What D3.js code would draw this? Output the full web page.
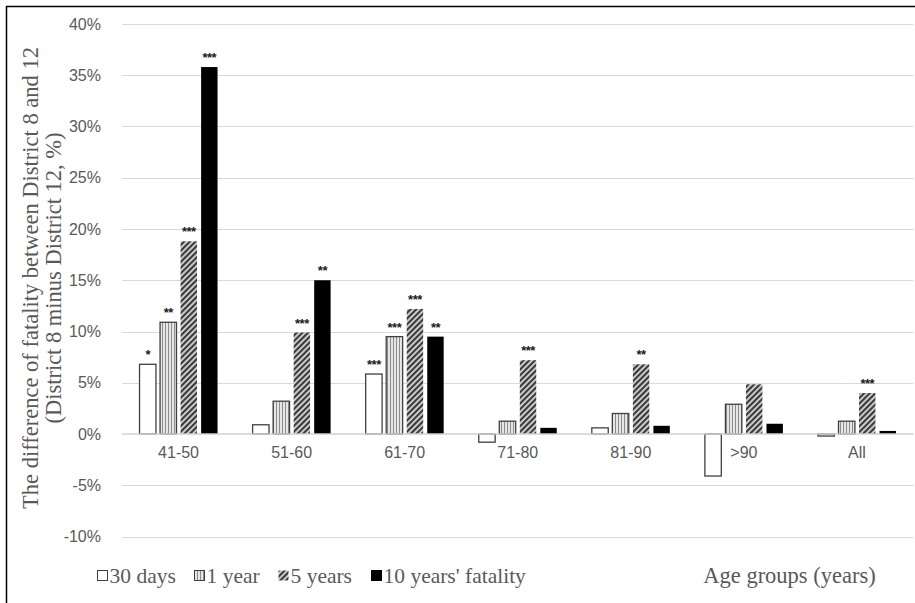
<!DOCTYPE html>
<html>
<head>
<meta charset="utf-8">
<script src="https://cdn.jsdelivr.net/npm/d3@7"></script>
<style>
  html, body { margin: 0; padding: 0; background: #fff; }
  svg { display: block; }
</style>
</head>
<body>
<svg id="chart" width="915" height="603"></svg>
<script>
// ---- data ----
const categories = ["41-50", "51-60", "61-70", "71-80", "81-90", ">90", "All"];
const seriesNames = ["30 days", "1 year", "5 years", "10 years' fatality"];
const days30 = [6.8, 0.9, 5.85, -0.8, 0.6, -4.1, -0.2];
const year1 = [10.9, 3.2, 9.5, 1.25, 2.0, 2.9, 1.25];
const years5 = [18.8, 9.9, 12.2, 7.2, 6.8, 4.85, 4.0];
const years10 = [35.8, 15.0, 9.5, 0.6, 0.8, 1.0, 0.3];
const stars30 = ["*", "", "***", "", "", "", ""];
const stars1 = ["**", "", "***", "", "", "", ""];
const stars5 = ["***", "***", "***", "***", "**", "", "***"];
const stars10 = ["***", "**", "**", "", "", "", ""];
const yTicks = [-10, -5, 0, 5, 10, 15, 20, 25, 30, 35, 40];

const seriesValues = [days30, year1, years5, years10];
const seriesStars = [stars30, stars1, stars5, stars10];

const svg = d3.select("#chart");
const defs = svg.append("defs");

// patterns
const pv = defs.append("pattern").attr("id", "pVert").attr("patternUnits", "userSpaceOnUse")
  .attr("width", 3).attr("height", 3);
pv.append("rect").attr("width", 3).attr("height", 3).attr("fill", "#e6e6e6");
pv.append("rect").attr("x", 0).attr("width", 1).attr("height", 3).attr("fill", "#8c8c8c");

const pd = defs.append("pattern").attr("id", "pDiag").attr("patternUnits", "userSpaceOnUse")
  .attr("width", 4).attr("height", 4).attr("patternTransform", "rotate(45)");
pd.append("rect").attr("width", 4).attr("height", 4).attr("fill", "#d9d9d9");
pd.append("rect").attr("width", 2.2).attr("height", 4).attr("fill", "#3a3a3a");

const fills = ["#ffffff", "url(#pVert)", "url(#pDiag)", "#000000"];
const strokes = ["#404040", "#404040", "none", "#000000"];

// scales
const x = d3.scaleBand().domain(categories).range([122, 913.5]).paddingInner(0).paddingOuter(0);
const xs = d3.scaleBand().domain(d3.range(seriesNames.length)).range([-39, 39]).paddingInner(0.2).paddingOuter(0);
const y = d3.scaleLinear().domain([-10, 40]).range([536.5, 24]);

// border
svg.append("path").attr("d", "M6.5,603V6.5H915").attr("fill", "none").attr("stroke", "#000").attr("stroke-width", 1.5);

// gridlines
svg.append("g").selectAll("line").data(yTicks.filter(d => d !== 0)).join("line")
  .attr("x1", 122).attr("x2", 913.5)
  .attr("y1", d => Math.round(y(d)) + 0.5).attr("y2", d => Math.round(y(d)) + 0.5)
  .attr("stroke", "#d9d9d9").attr("stroke-width", 1);

// y axis labels
const yAxis = d3.axisLeft(y).tickValues(yTicks).tickFormat(d => d + "%").tickSize(0).tickPadding(0);
const ya = svg.append("g").attr("transform", "translate(101,0)").call(yAxis);
ya.select(".domain").remove();
ya.selectAll("text").attr("font-family", "Liberation Sans, Arial, sans-serif").attr("font-size", 16).attr("fill", "#595959");

// bars
const groups = svg.append("g").selectAll("g").data(seriesValues).join("g");
groups.each(function (vals, si) {
  d3.select(this).selectAll("rect").data(vals).join("rect")
    .attr("x", (d, i) => x(categories[i]) + x.bandwidth() / 2 + xs(si))
    .attr("width", xs.bandwidth())
    .attr("y", d => y(Math.max(0, d)))
    .attr("height", d => Math.abs(y(d) - y(0)))
    .attr("fill", fills[si])
    .attr("stroke", strokes[si])
    .attr("stroke-width", si === 3 ? 0 : 1.3);
});

// zero line
svg.append("line").attr("x1", 122).attr("x2", 913.5)
  .attr("y1", y(0)).attr("y2", y(0)).attr("stroke", "#d0d0d0").attr("stroke-width", 1.3);

// stars
seriesStars.forEach((arr, si) => {
  svg.append("g").selectAll("text").data(arr).join("text")
    .attr("x", (d, i) => x(categories[i]) + x.bandwidth() / 2 + xs(si) + xs.bandwidth() / 2)
    .attr("y", (d, i) => y(Math.max(0, seriesValues[si][i])) - 5)
    .attr("text-anchor", "middle")
    .attr("font-family", "Liberation Sans, Arial, sans-serif")
    .attr("font-weight", "bold")
    .attr("font-size", 13)
    .attr("letter-spacing", -0.5)
    .attr("fill", "#1a1a1a")
    .text(d => d);
});

// x axis labels
const xAxis = d3.axisBottom(x).tickSize(0).tickPadding(0);
const xa = svg.append("g").attr("transform", "translate(0,447)").call(xAxis);
xa.select(".domain").remove();
xa.selectAll("text").attr("font-family", "Liberation Sans, Arial, sans-serif").attr("font-size", 16).attr("fill", "#595959");

// y title
const yt = svg.append("text")
  .attr("transform", "translate(0,278) rotate(-90)")
  .attr("text-anchor", "middle")
  .attr("font-family", "Liberation Serif, Times New Roman, serif")
  .attr("font-size", 22.5)
  .attr("fill", "#595959");
yt.append("tspan").attr("x", 0).attr("y", 38).text("The difference of fatality between District 8 and 12");
yt.append("tspan").attr("x", 0).attr("y", 61).text("(District 8 minus District 12, %)");

// legend
const legendX = [97, 194, 278, 371];
const lg = svg.append("g").selectAll("g").data(seriesNames).join("g")
  .attr("transform", (d, i) => `translate(${legendX[i]},570)`);
lg.append("rect").attr("x", 0.5).attr("y", 0.5).attr("width", 10).attr("height", 10)
  .attr("fill", (d, i) => fills[i]).attr("stroke", (d, i) => i === 2 ? "none" : strokes[i]).attr("stroke-width", 1);
lg.append("text").attr("x", 12.5).attr("y", 13)
  .attr("font-family", "Liberation Serif, Times New Roman, serif")
  .attr("font-size", 21.5).attr("fill", "#595959").text(d => d);

// x title
svg.append("text").attr("x", 789.5).attr("y", 583).attr("text-anchor", "middle")
  .attr("font-family", "Liberation Serif, Times New Roman, serif")
  .attr("font-size", 22.5).attr("fill", "#595959").text("Age groups (years)");
</script>
</body>
</html>
